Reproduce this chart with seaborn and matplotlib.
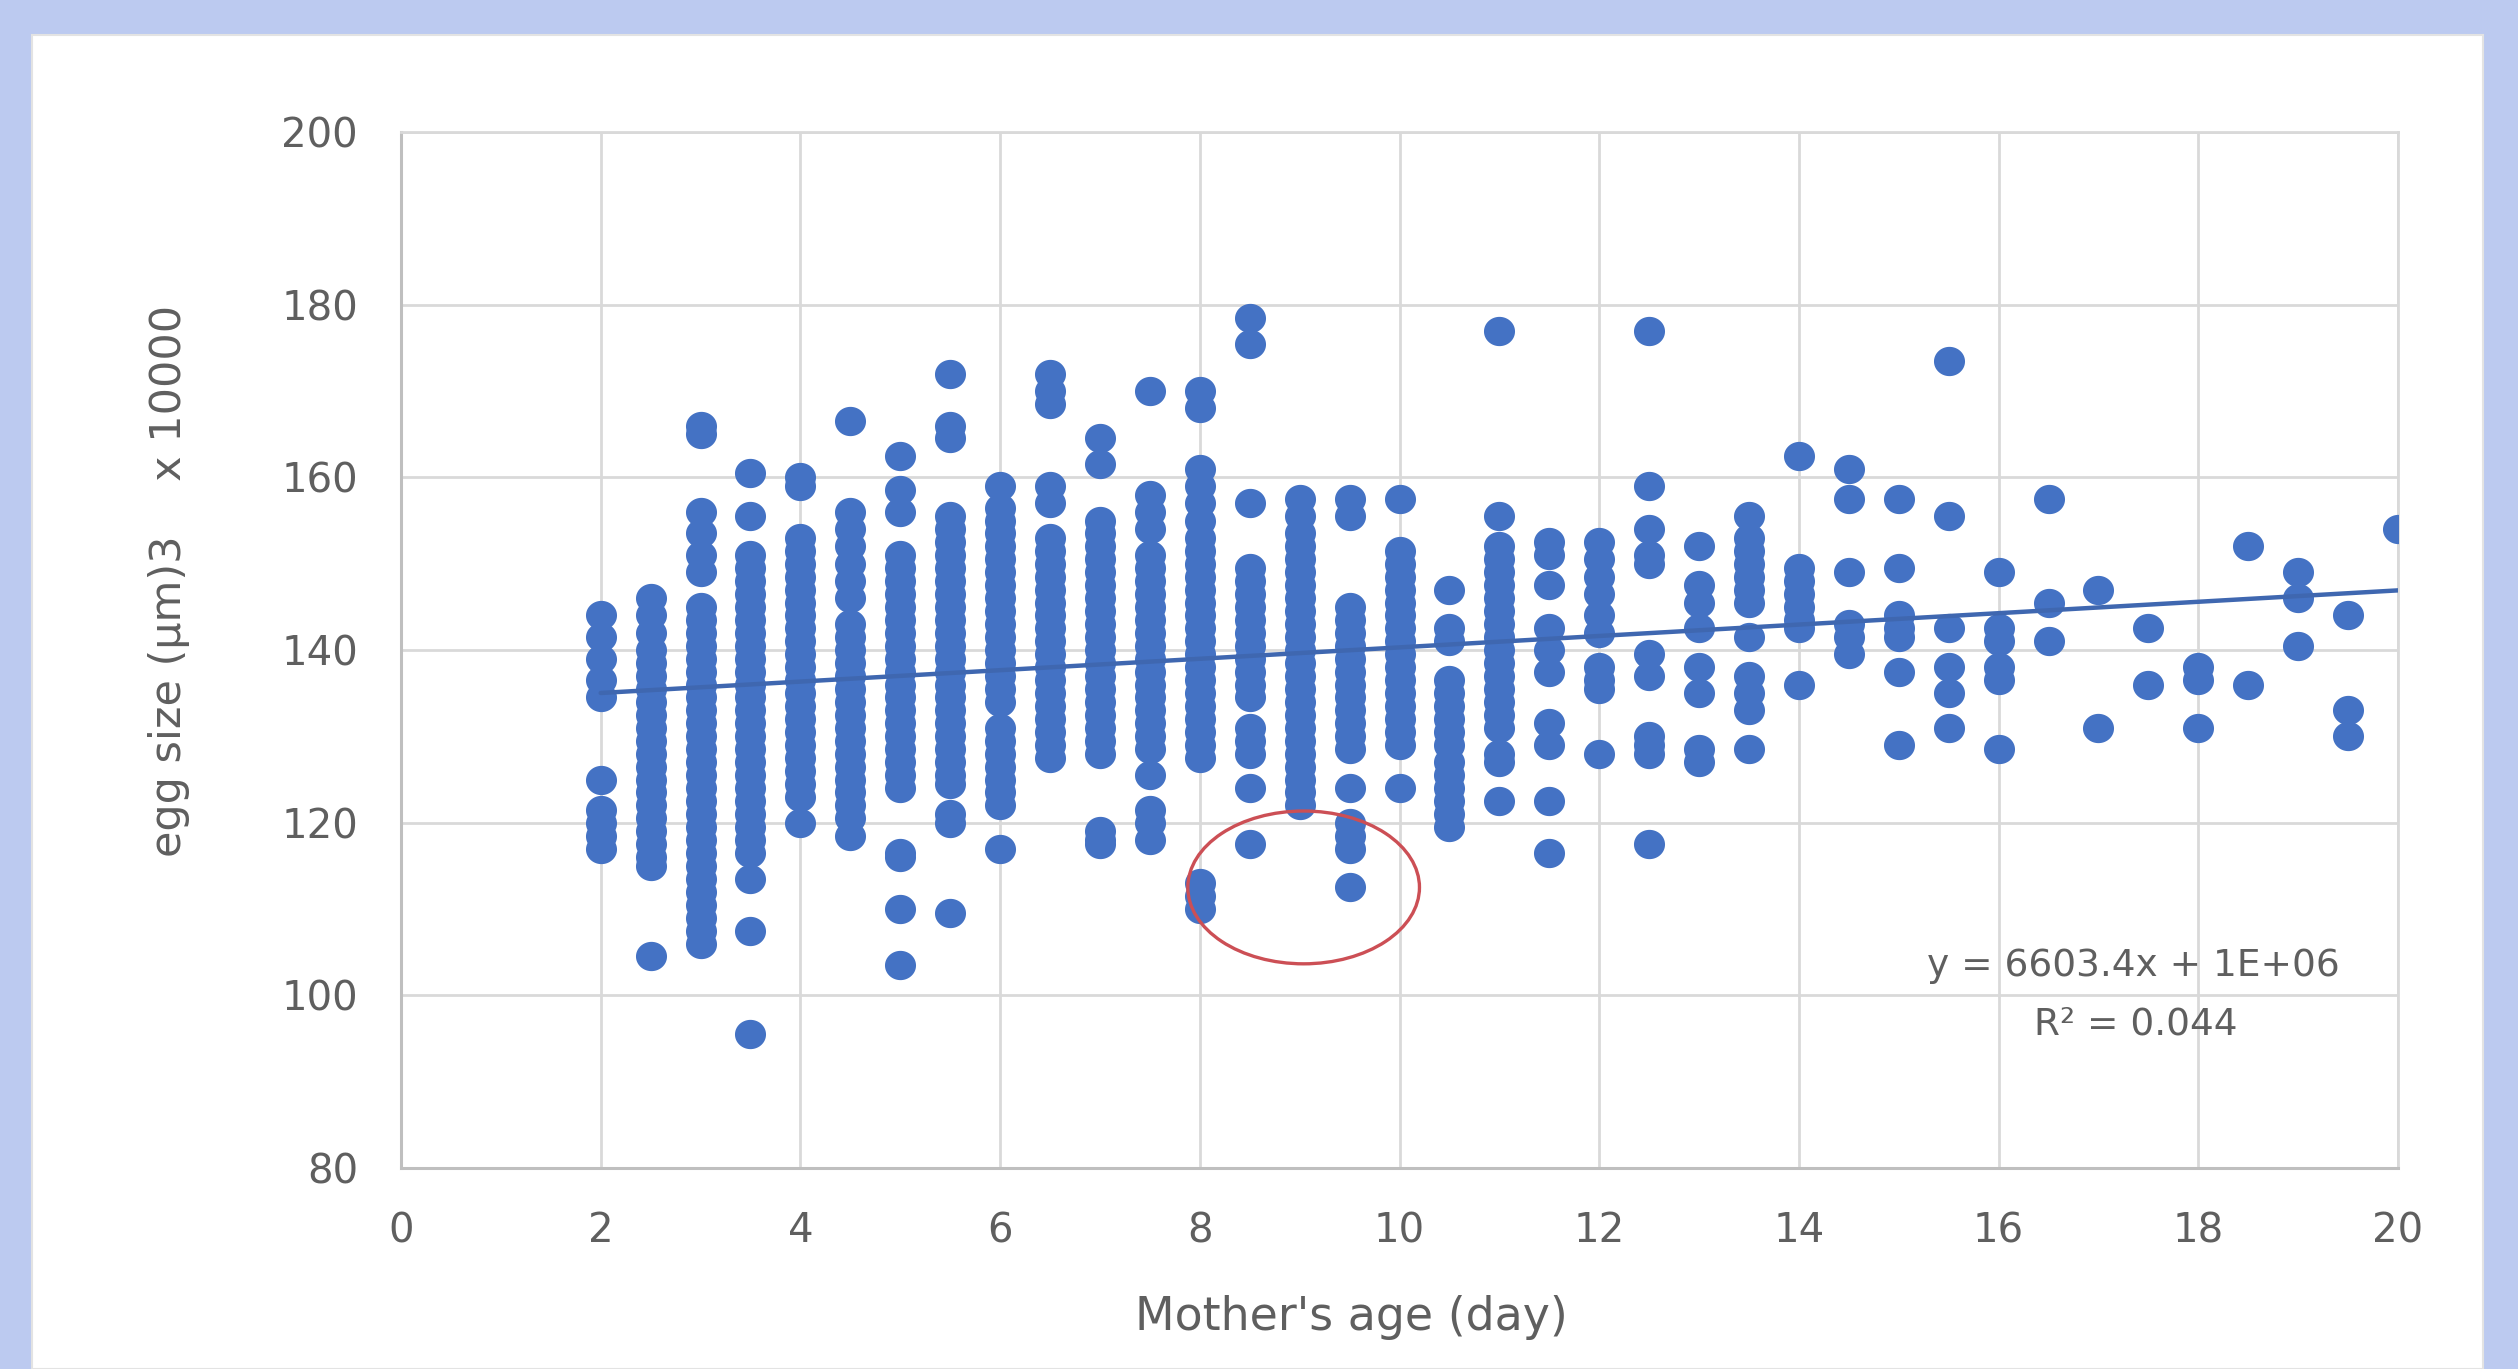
import matplotlib
matplotlib.use("Agg")
import matplotlib.pyplot as plt
from matplotlib.patches import Ellipse, Rectangle
from matplotlib.path import Path
import numpy as np
import pandas as pd
import seaborn as sns

# Egg size (µm³ / 10000) measured for each mother's age (days)
size_day_2 = [144, 141.5, 139, 136.5, 134.5, 125, 121.5, 120, 118.5, 117]
size_day_2_5 = [146, 144, 142, 140, 138.5, 137, 135.5, 134, 132.5, 131, 129.5, 128,
                126.5, 125, 123.5, 122, 120.5, 119, 117.5, 116, 115, 104.5]
size_day_3 = [166, 165, 156, 153.5, 151, 149, 145, 143.5, 142, 140.5, 139, 137.5, 136,
              134.5, 133, 131.5, 130, 128.5, 127, 125.5, 124, 122.5, 121, 119.5, 118,
              116.5, 115, 113.5, 112, 110.5, 109, 107.5, 106]
size_day_3_5 = [160.5, 155.5, 151, 149.5, 148, 146.5, 145, 143.5, 142, 140.5, 139, 137.5,
                136, 134.5, 133, 131.5, 130, 128.5, 127, 125.5, 124, 122.5, 121, 119.5,
                118, 116.5, 113.5, 107.5, 95.5]
size_day_4 = [160, 159, 153, 151.5, 150, 148.5, 147, 145.5, 144, 142.5, 141, 139.5, 138,
              136.5, 135, 133.5, 132, 130.5, 129, 127.5, 126, 124.5, 123, 120]
size_day_4_5 = [166.5, 156, 154, 152, 150, 148, 146, 143, 141.5, 140, 138.5, 137, 135.5,
                134, 132.5, 131, 129.5, 128, 126.5, 125, 123.5, 122, 120.5, 118.5]
size_day_5 = [162.5, 158.5, 156, 151, 149.5, 148, 146.5, 145, 143.5, 142, 140.5, 139,
              137.5, 136, 134.5, 133, 131.5, 130, 128.5, 127, 125.5, 124, 116.5, 116,
              110, 103.5]
size_day_5_5 = [172, 166, 164.5, 155.5, 154, 152.5, 151, 149.5, 148, 146.5, 145, 143.5,
                142, 140.5, 139, 137.5, 136, 134.5, 133, 131.5, 130, 128.5, 127, 125.5,
                124.5, 121, 120, 109.5]
size_day_6 = [159, 156.5, 155, 153.5, 152, 150.5, 149, 147.5, 146, 144.5, 143, 141.5,
              140, 138.5, 137, 135.5, 134, 131, 129.5, 128, 126.5, 125, 123.5, 122, 117]
size_day_6_5 = [172, 170, 168.5, 159, 157, 153, 151.5, 150, 148.5, 147, 145.5, 144,
                142.5, 141, 139.5, 138, 136.5, 135, 133.5, 132, 130.5, 129, 127.5]
size_day_7 = [164.5, 161.5, 155, 153.5, 152, 150.5, 149, 147.5, 146, 144.5, 143, 141.5,
              140, 138.5, 137, 135.5, 134, 132.5, 131, 129.5, 128, 119, 118, 117.5]
size_day_7_5 = [170, 158, 156, 154, 151, 149.5, 148, 146.5, 145, 143.5, 142, 140.5, 139,
                137.5, 136, 134.5, 133, 131.5, 130, 128.5, 125.5, 121.5, 120, 118]
size_day_8 = [170, 168, 161, 159, 157, 155, 153, 151.5, 150, 148.5, 147, 145.5, 144,
              142.5, 141, 139.5, 138, 136.5, 135, 133.5, 132, 130.5, 129, 127.5, 113,
              111.5, 110]
size_day_8_5 = [178.5, 175.5, 157, 149.5, 148, 146.5, 145, 143.5, 142, 140.5, 139, 137.5,
                136, 134.5, 131, 129.5, 128, 124, 117.5]
size_day_9 = [157.5, 155.5, 153.5, 152, 150.5, 149, 147.5, 146, 144.5, 143, 141.5, 140,
              138.5, 137, 135.5, 134, 132.5, 131, 129.5, 128, 126.5, 125, 123.5, 122]
size_day_9_5 = [157.5, 155.5, 145, 143.5, 142, 140.5, 139, 137.5, 136, 134.5, 133, 131.5,
                130, 128.5, 124, 120, 118.5, 117, 112.5]
size_day_10 = [157.5, 151.5, 150, 148.5, 147, 145.5, 144, 142.5, 141, 139.5, 138, 136.5,
               135, 133.5, 132, 130.5, 129, 124]
size_day_10_5 = [147, 142.5, 141, 136.5, 135, 133.5, 132, 130.5, 129, 127, 125.5, 124,
                 122.5, 121, 119.5]
size_day_11 = [177, 155.5, 152, 150.5, 149, 147.5, 146, 144.5, 143, 141.5, 140, 138.5,
               137, 135.5, 134, 132.5, 131, 128, 127, 122.5]
size_day_11_5 = [152.5, 151, 147.5, 142.5, 140, 137.5, 131.5, 129, 122.5, 116.5]
size_day_12 = [152.5, 150.5, 148.5, 146.5, 144, 142, 138, 136.5, 135.5, 128]
size_day_12_5 = [177, 159, 154, 151, 150, 139.5, 137, 130, 129, 128, 117.5]
size_day_13 = [152, 147.5, 145.5, 142.5, 138, 135, 128.5, 127]
size_day_13_5 = [155.5, 153, 151.5, 150, 148.5, 147, 145.5, 141.5, 137, 135, 133, 128.5]
size_day_14 = [162.5, 149.5, 148, 146.5, 145, 143.5, 142.5, 136]
size_day_14_5 = [161, 157.5, 149, 143, 141.5, 139.5]
size_day_15 = [157.5, 149.5, 144, 142.5, 141.5, 137.5, 129]
size_day_15_5 = [173.5, 155.5, 142.5, 138, 135, 131]
size_day_16 = [149, 142.5, 141, 138, 136.5, 128.5]
size_day_16_5 = [157.5, 145.5, 141]
size_day_17 = [147, 131]
size_day_17_5 = [142.5, 136]
size_day_18 = [138, 136.5, 131]
size_day_18_5 = [152, 136]
size_day_19 = [149, 146, 140.5]
size_day_19_5 = [144, 133, 130]
size_day_20 = [154]

ages = [2, 2.5, 3, 3.5, 4, 4.5, 5, 5.5, 6, 6.5, 7, 7.5, 8, 8.5, 9, 9.5, 10, 10.5, 11,
        11.5, 12, 12.5, 13, 13.5, 14, 14.5, 15, 15.5, 16, 16.5, 17, 17.5, 18, 18.5,
        19, 19.5, 20]
sizes = [size_day_2, size_day_2_5, size_day_3, size_day_3_5, size_day_4, size_day_4_5,
         size_day_5, size_day_5_5, size_day_6, size_day_6_5, size_day_7, size_day_7_5,
         size_day_8, size_day_8_5, size_day_9, size_day_9_5, size_day_10, size_day_10_5,
         size_day_11, size_day_11_5, size_day_12, size_day_12_5, size_day_13,
         size_day_13_5, size_day_14, size_day_14_5, size_day_15, size_day_15_5,
         size_day_16, size_day_16_5, size_day_17, size_day_17_5, size_day_18,
         size_day_18_5, size_day_19, size_day_19_5, size_day_20]

# Linear trendline (slope per day in the x10000 units of the axis)
trend_slope = 6603.4 / 10000
trend_intercept = 133.7
equation_text = "y = 6603.4x + 1E+06"
r2_text = "R² = 0.044"

x_ticks = [0, 2, 4, 6, 8, 10, 12, 14, 16, 18, 20]
y_ticks = [80, 100, 120, 140, 160, 180, 200]

df = pd.DataFrame({
    "age": [a for a, vals in zip(ages, sizes) for _ in vals],
    "size": [v for vals in sizes for v in vals],
})

sns.set_theme(style="white")
plt.rcParams["font.family"] = ["DejaVu Sans"]

W, H = 2518, 1369
fig = plt.figure(figsize=(W / 100, H / 100), dpi=100)
fig.patch.set_facecolor("#bccaf0")

# white chart area behind the plot
bg = fig.add_axes([0, 0, 1, 1], zorder=-10)
bg.set_axis_off()
bg.set_xlim(0, W)
bg.set_ylim(H, 0)
bg.add_patch(Rectangle((32, 35), 2483 - 32, H - 35, facecolor="white",
                       edgecolor="#e3e3e3", linewidth=1.5))

ax = fig.add_axes([401 / W, 1 - 1168 / H, (2398 - 401) / W, (1168 - 132) / H])
ax.set_facecolor("white")

# slightly wide round marker
theta = np.linspace(0, 2 * np.pi, 60)
wide_dot = Path(np.column_stack([1.06 * np.cos(theta), np.sin(theta)]), closed=True)

blue = "#4472C4"
sns.scatterplot(data=df, x="age", y="size", color=blue, s=500, linewidth=0,
                marker=wide_dot, ax=ax, zorder=3)

line_x = np.array([min(ages), max(ages)])
ax.plot(line_x, trend_intercept + trend_slope * line_x, color="#3f67b0",
        linewidth=3.2, zorder=4)

ax.add_patch(Ellipse((9.04, 112.5), 2.32, 17.7, fill=False, edgecolor="#cc4f55",
                     linewidth=2.4, zorder=5))

text_color = "#5f5f5f"
ax.text(17.35, 103.4, equation_text, ha="center", va="center", fontsize=27,
        color=text_color, zorder=6)
ax.text(17.37, 96.6, r2_text, ha="center", va="center", fontsize=27,
        color=text_color, zorder=6)

ax.set_xlim(0, 20)
ax.set_ylim(80, 200)
ax.set_xticks(x_ticks)
ax.set_yticks(y_ticks)
ax.grid(True, color="#d9d9d9", linewidth=2.0, zorder=0)
ax.set_axisbelow(True)
for side in ["top", "right"]:
    ax.spines[side].set_color("#d9d9d9")
    ax.spines[side].set_linewidth(2.0)
for side in ["left", "bottom"]:
    ax.spines[side].set_color("#bfbfbf")
    ax.spines[side].set_linewidth(2.2)
ax.tick_params(axis="both", length=0, labelsize=29, labelcolor=text_color)
ax.tick_params(axis="x", pad=31)
ax.tick_params(axis="y", pad=31)

ax.set_xlabel("Mother's age (day)", fontsize=33, color=text_color, va="center")
ax.xaxis.set_label_coords(0.476, -0.144)
ax.set_ylabel("egg size (µm)3    x 10000", fontsize=31, color=text_color, va="center")
ax.yaxis.set_label_coords(-0.116, 0.567)

fig.savefig("out.png", dpi=100, facecolor=fig.get_facecolor())
